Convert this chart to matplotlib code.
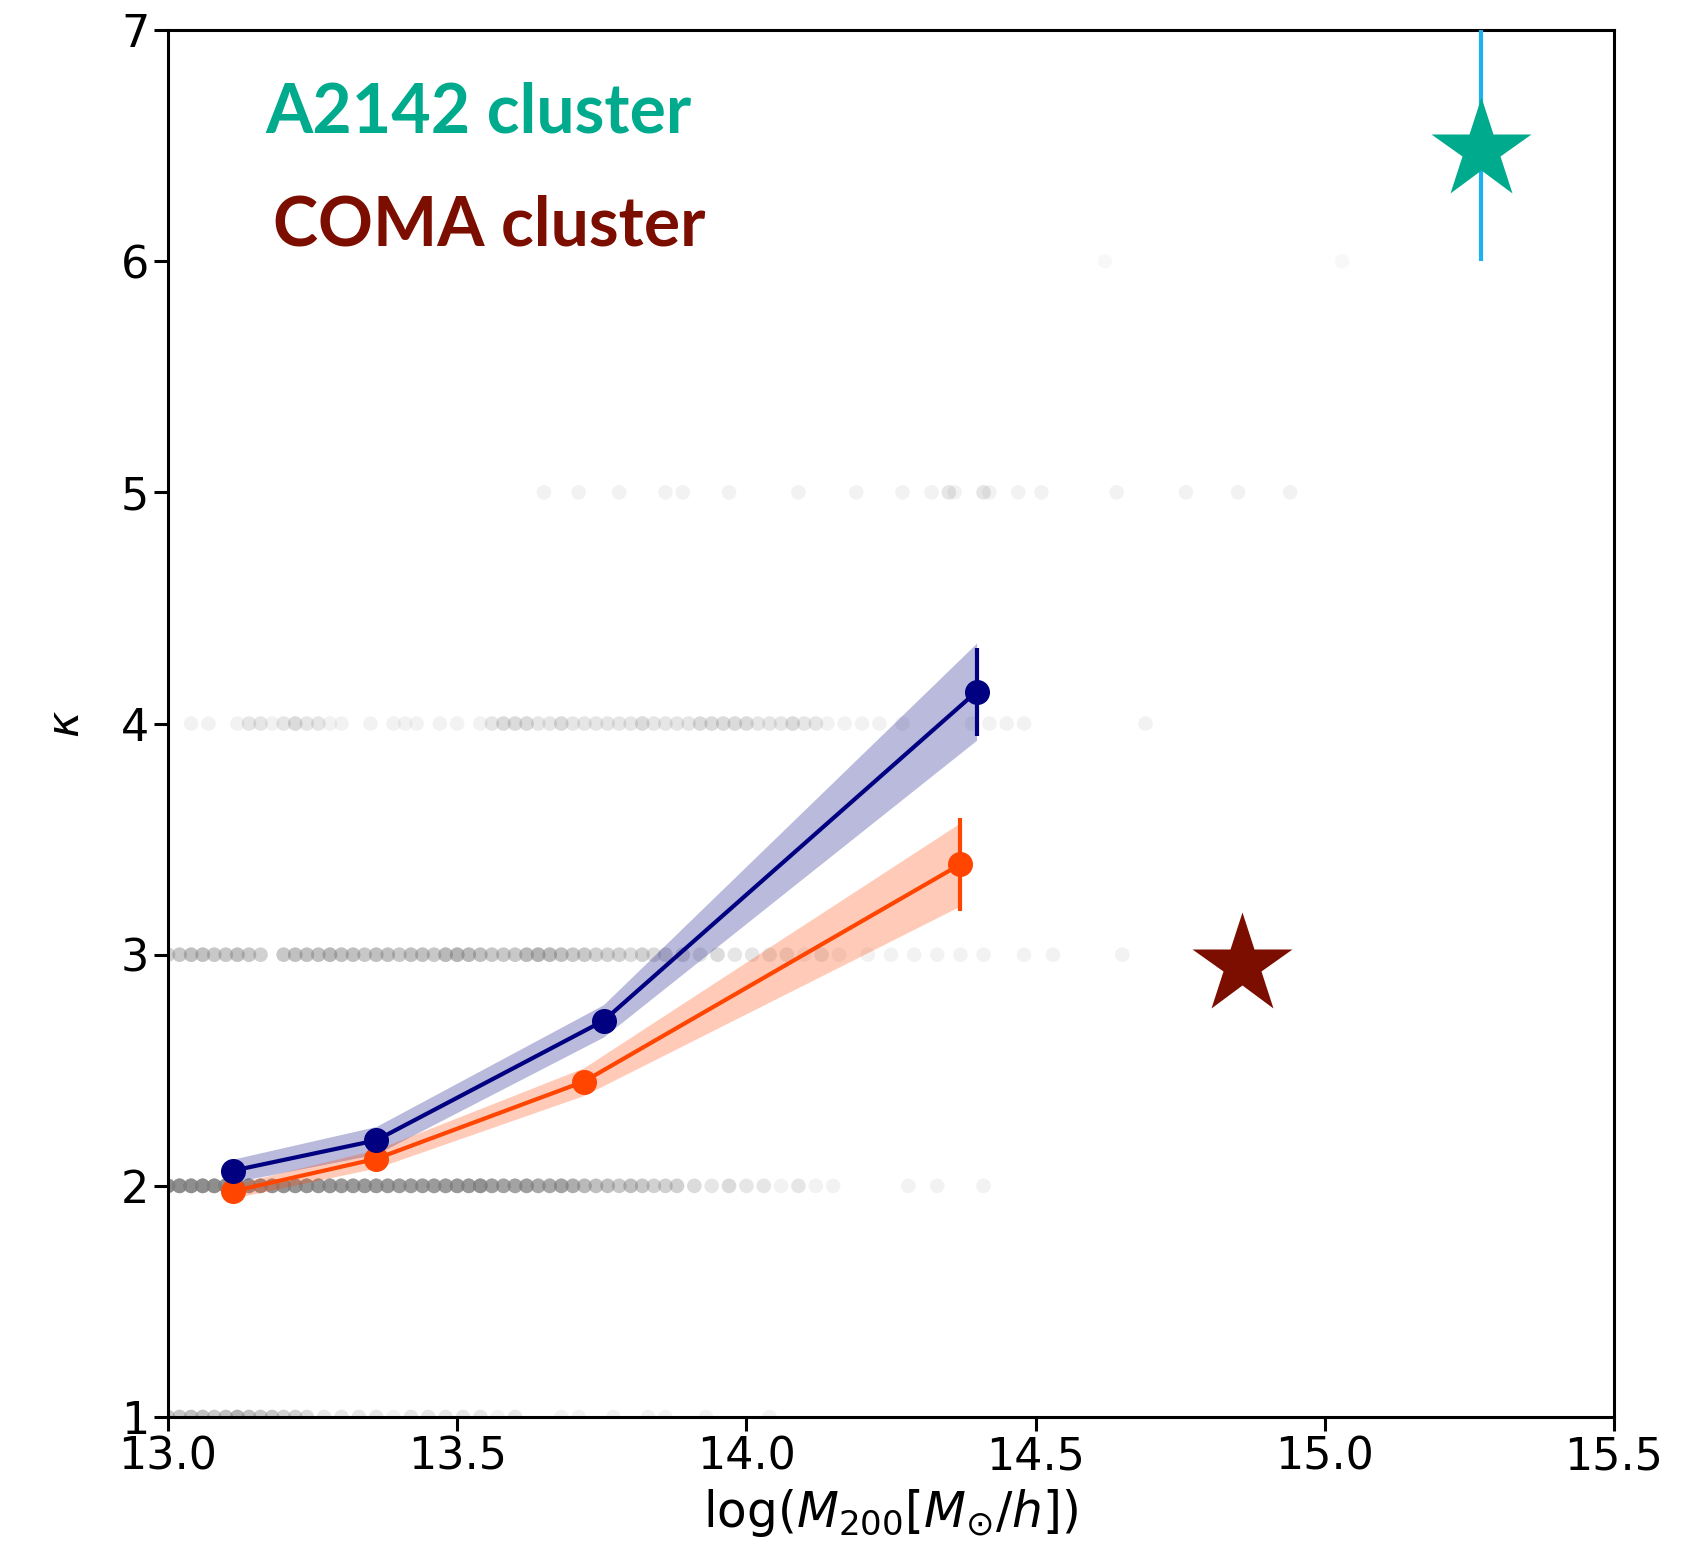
import numpy as np
import matplotlib
matplotlib.use("Agg")
import matplotlib.pyplot as plt

# grey background sample: x positions and how many points sit at each one
k1_x = [13.00, 13.02, 13.04, 13.06, 13.08, 13.10, 13.12, 13.14, 13.16, 13.18,
        13.20, 13.22, 13.24, 13.27, 13.30, 13.33, 13.36, 13.39, 13.42, 13.45,
        13.48, 13.51, 13.54, 13.57, 13.60, 13.68, 13.71, 13.77, 13.83, 13.86,
        13.93, 14.04]
k1_n = [5, 5, 6, 6, 5, 6, 8, 6, 5, 5,
        4, 4, 3, 2, 2, 2, 2, 1, 2, 2,
        2, 2, 2, 1, 2, 1, 1, 1, 1, 1,
        1, 1]

k2_x = [13.00, 13.02, 13.04, 13.06, 13.08, 13.10, 13.12, 13.14, 13.16, 13.18,
        13.20, 13.22, 13.24, 13.26, 13.28, 13.30, 13.32, 13.34, 13.36, 13.38,
        13.40, 13.42, 13.44, 13.46, 13.48, 13.50, 13.52, 13.54, 13.56, 13.58,
        13.60, 13.62, 13.64, 13.66, 13.68, 13.70, 13.72, 13.74, 13.76, 13.78,
        13.80, 13.82, 13.84, 13.86, 13.88,
        13.91, 13.94, 13.97, 14.00, 14.03, 14.06, 14.09, 14.12, 14.15,
        14.28, 14.33, 14.41]
k2_n = [18, 18, 18, 18, 18, 17, 17, 16, 16, 16,
        16, 15, 15, 15, 15, 14, 14, 14, 14, 14,
        13, 13, 13, 13, 13, 14, 14, 16, 12, 11,
        11, 12, 10, 10, 11, 9, 7, 6, 6, 5,
        6, 5, 4, 4, 4,
        3, 2, 3, 2, 2, 1, 2, 1, 1,
        1, 1, 1]

k3_x = [13.00, 13.02, 13.04, 13.06, 13.08, 13.10, 13.12, 13.14, 13.16,
        13.20, 13.22, 13.24, 13.26, 13.28, 13.30, 13.32, 13.34, 13.36, 13.38,
        13.40, 13.42, 13.44, 13.46, 13.48, 13.50, 13.52, 13.54, 13.56, 13.58,
        13.60, 13.62, 13.64, 13.66, 13.68, 13.70, 13.72, 13.74, 13.76, 13.78,
        13.80, 13.82, 13.84, 13.86,
        13.89, 13.92, 13.95, 13.98, 14.01, 14.04, 14.07, 14.10, 14.13, 14.16,
        14.21, 14.25, 14.29, 14.33, 14.37, 14.41, 14.48, 14.53, 14.65]
k3_n = [4, 5, 6, 6, 5, 5, 6, 5, 4,
        5, 6, 6, 6, 7, 6, 6, 5, 6, 6,
        5, 6, 6, 5, 7, 8, 7, 6, 5, 5,
        5, 7, 8, 7, 6, 5, 5, 4, 4, 4,
        3, 4, 3, 3,
        3, 2, 3, 2, 2, 2, 2, 1, 2, 1,
        1, 1, 1, 1, 1, 1, 1, 1, 1]

k4_x = [13.04, 13.07,
        13.12, 13.14, 13.16, 13.18, 13.20, 13.22, 13.24, 13.26, 13.28, 13.30,
        13.35, 13.39, 13.41, 13.43, 13.47, 13.50, 13.54,
        13.56, 13.58, 13.60, 13.62, 13.64, 13.66, 13.68, 13.70, 13.72, 13.74,
        13.76, 13.78, 13.80, 13.82, 13.84, 13.86, 13.88, 13.90, 13.92, 13.94,
        13.96, 13.98, 14.00, 14.02, 14.04, 14.06, 14.08, 14.10, 14.12, 14.14,
        14.17, 14.20, 14.23, 14.27, 14.39, 14.42, 14.45, 14.48, 14.69]
k4_n = [1, 1,
        1, 2, 2, 1, 2, 3, 2, 2, 1, 1,
        1, 1, 1, 1, 1, 1, 1,
        2, 3, 3, 3, 2, 2, 3, 2, 2, 2,
        2, 2, 2, 3, 2, 2, 2, 2, 3, 3,
        3, 3, 3, 2, 2, 2, 3, 2, 2, 1,
        1, 1, 1, 1, 1, 1, 1, 1, 1]

k5_x = [13.65, 13.71, 13.78, 13.86, 13.89, 13.97, 14.09, 14.19, 14.27, 14.32,
        14.35, 14.36, 14.41, 14.42, 14.47, 14.51, 14.64, 14.76, 14.85, 14.94]
k5_n = [1, 1, 1, 1, 1, 1, 1, 1, 1, 1,
        2, 1, 2, 1, 1, 1, 1, 1, 1, 1]

k6_x = [14.62, 15.03]
k6_n = [1, 1]

# binned relations
blue_x = [13.113, 13.360, 13.753, 14.398]
blue_y = [2.066, 2.197, 2.714, 4.138]
blue_err = [0.03, 0.03, 0.04, 0.19]
blue_band = [0.05, 0.06, 0.07, 0.21]

orange_x = [13.113, 13.360, 13.719, 14.370]
orange_y = [1.977, 2.117, 2.451, 3.391]
orange_err = [0.02, 0.02, 0.03, 0.20]
orange_band = [0.03, 0.04, 0.06, 0.18]

# observed clusters
a2142_x, a2142_y = 15.27, 6.48
a2142_err = [[0.48], [0.56]]
coma_x, coma_y = 14.856, 2.954

teal = "#00AA8D"
maroon = "#7C0E00"

fig = plt.figure(figsize=(17.02, 15.5), dpi=100)
ax = fig.add_axes([0.0987, 0.0858, 0.9483 - 0.0987, 0.9806 - 0.0858])

rows = [(1, k1_x, k1_n), (2, k2_x, k2_n), (3, k3_x, k3_n),
        (4, k4_x, k4_n), (5, k5_x, k5_n), (6, k6_x, k6_n)]
for k, xs, ns in rows:
    xx = np.repeat(xs, ns)
    ax.scatter(xx, np.full(len(xx), k), s=110, c="gray",
               alpha=0.05 if k == 6 else 0.1, edgecolors="none", zorder=1)

ax.fill_between(blue_x, np.array(blue_y) - blue_band, np.array(blue_y) + blue_band,
                color="navy", alpha=0.27, lw=0, zorder=2)
ax.fill_between(orange_x, np.array(orange_y) - orange_band, np.array(orange_y) + orange_band,
                color="orangered", alpha=0.28, lw=0, zorder=2)

ax.errorbar(blue_x, blue_y, yerr=blue_err, color="navy", marker="o", ms=17,
            lw=3, elinewidth=3, capsize=0, zorder=4)
ax.errorbar(orange_x, orange_y, yerr=orange_err, color="orangered", marker="o", ms=17,
            lw=3, elinewidth=3, capsize=0, zorder=3)

ax.errorbar([a2142_x], [a2142_y], yerr=a2142_err, fmt="none", ecolor="#1CB2F2",
            elinewidth=3, capsize=0, zorder=5)
ax.plot([a2142_x], [a2142_y], marker="*", ms=76, color=teal, mec="none",
        ls="none", zorder=6)
ax.plot([coma_x], [coma_y], marker="*", ms=76, color=maroon, mec="none",
        ls="none", zorder=6)

ax.text(13.168, 6.555, "A2142 cluster", color=teal, fontsize=49,
        family="Lato", weight="bold", ha="left", va="baseline", zorder=7)
ax.text(13.182, 6.070, "COMA cluster", color=maroon, fontsize=49,
        family="Lato", weight="bold", ha="left", va="baseline", zorder=7)

ax.set_xlim(13.0, 15.5)
ax.set_ylim(1, 7)
ax.set_xticks([13.0, 13.5, 14.0, 14.5, 15.0, 15.5])
ax.set_xticklabels(["13.0", "13.5", "14.0", "14.5", "15.0", "15.5"])
ax.set_yticks([1, 2, 3, 4, 5, 6, 7])
ax.tick_params(labelsize=32, length=10, width=2.2)
for sp in ax.spines.values():
    sp.set_linewidth(2.2)

ax.set_xlabel(r"log($M_{200}[M_{\odot}/h]$)", fontsize=35, labelpad=6)
ax.set_ylabel(r"$\kappa$", fontsize=32, labelpad=24)

fig.savefig("out.png", dpi=100)
